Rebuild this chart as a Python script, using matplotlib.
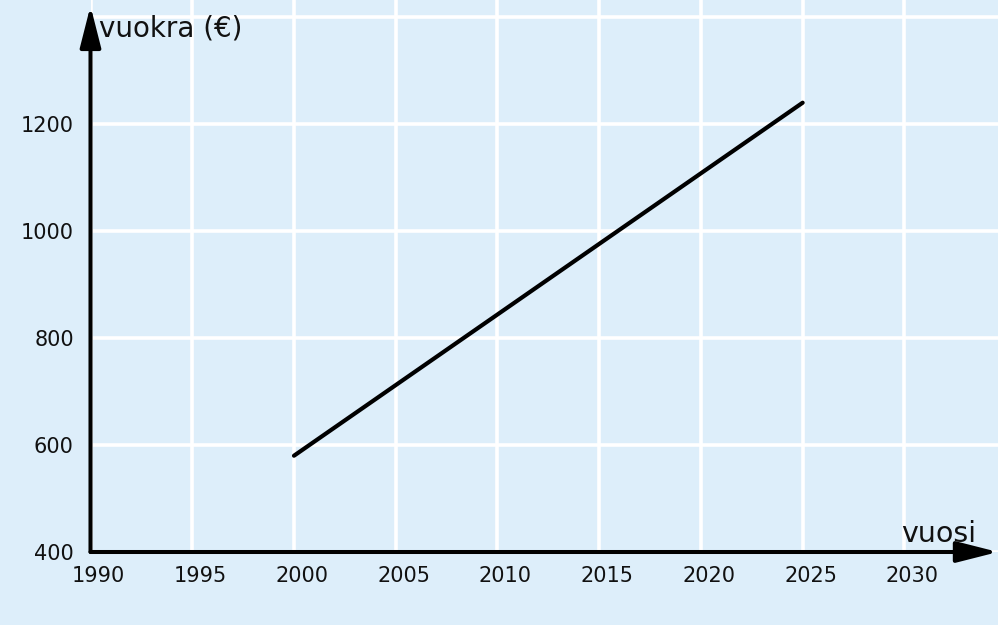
import matplotlib
matplotlib.use("Agg")
import matplotlib.pyplot as plt
import matplotlib.transforms as mtransforms

years = [2000, 2025]
rent = [580, 1240]
xticks = [1990, 1995, 2000, 2005, 2010, 2015, 2020, 2025, 2030]
yticks = [400, 600, 800, 1000, 1200]
ygrid = [400, 600, 800, 1000, 1200, 1400]
xlabel = "vuosi"
ylabel = "vuokra (€)"

bg = "#ddeefa"
fig = plt.figure(figsize=(9.98, 6.25), dpi=100, facecolor=bg)
ax = fig.add_axes([90.5/998, 73/625, 907.5/998, 552/625])
ax.set_facecolor(bg)
ax.set_xlim(1990, 2034.6)
ax.set_ylim(400, 1432)

for x in xticks:
    ax.axvline(x, color="white", lw=2.6, zorder=1)
for y in ygrid:
    ax.axhline(y, color="white", lw=2.6, zorder=1)

ax.plot(years, rent, color="black", lw=3, solid_capstyle="round", zorder=3)

for s in ax.spines.values():
    s.set_visible(False)

arrow = dict(arrowstyle="-|>,head_length=1.26,head_width=0.32", color="black",
             lw=2.9, mutation_scale=20, shrinkA=0, shrinkB=0)
ax.annotate("", xy=(1990, 1421), xytext=(1990, 400), arrowprops=arrow,
            annotation_clip=False, zorder=4)
ax.annotate("", xy=(2034.6, 400), xytext=(1990, 400), arrowprops=arrow,
            annotation_clip=False, zorder=4)

ax.set_xticks(xticks)
ax.set_yticks(yticks)
ax.tick_params(length=0, labelsize=15, colors="#111111")
ax.tick_params(axis="y", pad=12)
ax.tick_params(axis="x", pad=10)
off = mtransforms.ScaledTranslation(8/100, 0, fig.dpi_scale_trans)
for lab in ax.get_xticklabels():
    lab.set_transform(lab.get_transform() + off)

fig.text(99/998, 1 - 37/625, ylabel, fontsize=20, color="#111111",
         ha="left", va="baseline")
fig.text(976/998, 1 - 542/625, xlabel, fontsize=20.5, color="#111111",
         ha="right", va="baseline")

fig.savefig("out.png", dpi=100, facecolor=bg)
